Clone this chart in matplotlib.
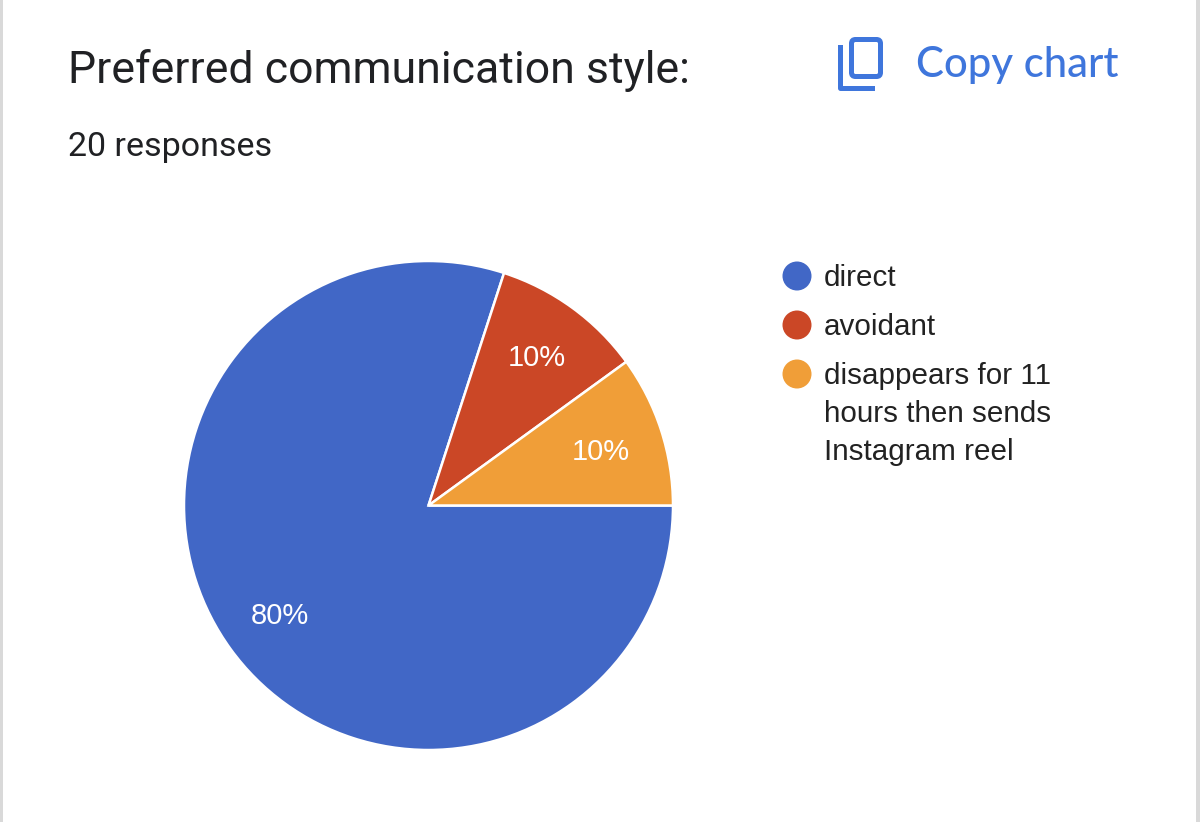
import matplotlib as mpl
mpl.use('Agg')
import matplotlib.pyplot as plt
from matplotlib.patches import Circle, Rectangle, FancyBboxPatch

labels = ['direct', 'avoidant', 'disappears for 11\nhours then sends\nInstagram reel']
values = [80, 10, 10]
pct_labels = ['80%', '10%', '10%']
colors = ['#4167c6', '#cb4726', '#f09e38']
title = 'Preferred communication style:'
subtitle = '20 responses'
copy_text = 'Copy chart'

plt.rcParams['font.family'] = ['Roboto', 'DejaVu Sans']
arial_like = ['Liberation Sans', 'DejaVu Sans']

fig = plt.figure(figsize=(12, 8.22), dpi=100)
# full figure axes in pixel coords, y going down
bg = fig.add_axes([0, 0, 1, 1])
bg.set_xlim(0, 1200)
bg.set_ylim(822, 0)
bg.axis('off')
bg.set_zorder(5)

# grey strips at the card edges
bg.add_patch(Rectangle((0, 0), 3, 822, color='#d9d9d9', lw=0))
bg.add_patch(Rectangle((1196, 0), 4, 822, color='#d9d9d9', lw=0))

bg.text(68, 70, title, fontsize=32.1, color='#202124', va='center', ha='left')
bg.text(68, 147, subtitle, fontsize=24.5, color='#202124', va='center', ha='left')
bg.text(916, 65, copy_text, fontsize=30.2, color='#3f76dc', va='center', ha='left',
        family=['Lato', 'DejaVu Sans'], fontweight='medium')

# copy icon
blue = '#3f76dc'
bg.add_patch(FancyBboxPatch((851.5, 39.5), 29, 37, boxstyle='round,pad=0,rounding_size=4',
                            fill=False, ec=blue, lw=3.6))
bg.plot([839.5, 839.5, 872], [47, 88.5, 88.5], color=blue, lw=3.6, solid_joinstyle='round')

# pie, slices run clockwise from the east
pie_ax = fig.add_axes([184 / 1200, 1 - 750 / 822, 489 / 1200, 489 / 822])
wedges, _ = pie_ax.pie(values, colors=colors, startangle=0, counterclock=False,
                       radius=1, wedgeprops={'edgecolor': 'white', 'linewidth': 1.8})
pie_ax.set_xlim(-1, 1)
pie_ax.set_ylim(-1, 1)
pct_pos = [(280, 616), (537, 358), (601, 452)]
for txt, pos in zip(pct_labels, pct_pos):
    bg.text(pos[0], pos[1], txt, fontsize=21, color='white', ha='center', va='center',
            family=arial_like)

# legend
leg_y = [276, 325, 374]
for lab, col, y in zip(labels, colors, leg_y):
    bg.add_patch(Circle((797, y), 14.5, color=col, lw=0))
    bg.text(824, y - 12, lab, fontsize=21.3, color='#222222', va='top', ha='left',
            linespacing=1.46, family=arial_like)

fig.savefig('out.png', dpi=100)
